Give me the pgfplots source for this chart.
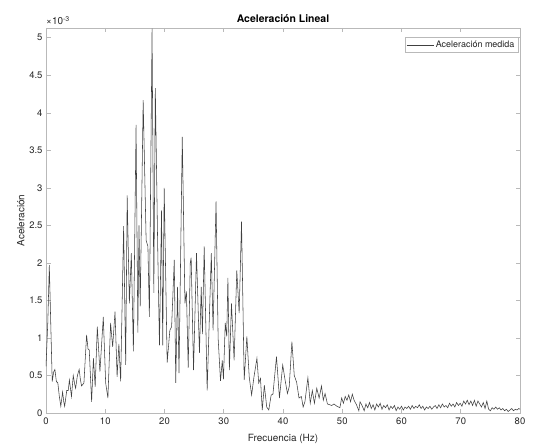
\documentclass[border=0pt]{standalone}
\usepackage{fontspec}
\setmainfont{TeX Gyre Heros}
\usepackage{pgfplots}
\pgfplotsset{compat=1.18}
\usetikzlibrary{calc}

\definecolor{axgray}{RGB}{185,185,185}
\definecolor{txt}{RGB}{38,38,38}

\begin{document}
\begin{tikzpicture}
\begin{axis}[
    name=ax,
    width=474bp, height=385bp, scale only axis,
    xmin=0, xmax=80, ymin=0, ymax=5.13,
    xtick={0,10,20,30,40,50,60,70,80},
    ytick={0,0.5,1,1.5,2,2.5,3,3.5,4,4.5,5},
    tick align=inside,
    major tick length=4.5bp,
    axis line style={axgray, line width=0.6bp},
    every tick/.style={axgray, line width=0.6bp},
    tick label style={font=\fontsize{9.5}{11}\selectfont, text=txt},
    xticklabel style={yshift=-1.5bp},
    /pgf/number format/assume math mode=true,
    scaled y ticks=false,
    title={\textbf{Aceleración Lineal}},
    title style={font=\fontsize{10.5}{12}\selectfont, text=black, yshift=-4bp},
    xlabel={Frecuencia (Hz)},
    ylabel={Aceleración},
    label style={font=\fontsize{10}{12}\selectfont, text=txt},
    xlabel style={yshift=-3bp},
    ylabel style={yshift=-2bp},
    legend style={at={(0.996,0.976)}, anchor=north east, draw=axgray,
        font=\fontsize{9}{10}\selectfont, text=txt, inner sep=1.5bp},
    legend cell align=left,
    legend image code/.code={\draw[#1] (0bp,0bp) -- (27bp,0bp);},
]
\addplot[black!75, line width=0.55bp] coordinates {
(0.0,0.62) (0.3,1.20) (0.56,1.97) (0.8,1.20) (1.05,0.42) (1.3,0.55) (1.5,0.58)
(1.75,0.42) (2.0,0.40) (2.25,0.22) (2.5,0.09) (2.8,0.28) (3.0,0.15) (3.15,0.09)
(3.5,0.30) (3.75,0.30) (3.95,0.44) (4.3,0.22) (4.6,0.50) (4.85,0.38) (5.0,0.33)
(5.3,0.50) (5.6,0.58) (5.8,0.45) (6.0,0.36) (6.4,0.40) (6.85,1.04) (7.1,0.85)
(7.3,0.84) (7.7,0.15) (8.0,0.73) (8.3,0.35) (8.66,1.15) (9.1,0.55) (9.67,1.28)
(10.07,0.40) (10.45,0.20) (10.9,1.20) (11.25,0.88) (11.65,1.35) (12.0,0.48)
(12.3,0.92) (12.6,0.42) (13.1,2.49) (13.45,0.64) (13.7,2.90) (14.07,1.46)
(14.4,2.13) (14.75,0.82) (15.2,3.84) (15.5,1.07) (15.7,2.50) (15.9,1.42)
(16.4,4.17) (16.9,2.30) (17.2,2.22) (17.45,1.28) (17.9,5.12) (18.2,1.60)
(18.45,4.33) (18.85,2.22) (19.15,0.90) (19.5,2.70) (19.7,0.90) (19.95,3.00)
(20.45,0.67) (20.9,1.10) (21.2,1.15) (21.65,2.04) (21.9,0.40) (22.2,1.68)
(22.45,0.53) (23.0,3.68) (23.45,1.46) (23.7,1.62) (24.0,0.60) (24.35,2.00)
(24.5,2.07) (24.9,0.57) (25.4,2.13) (25.9,0.80) (26.2,1.68) (26.4,1.05)
(26.7,2.22) (27.2,0.30) (27.9,2.13) (28.2,1.10) (28.7,2.82) (29.05,1.00)
(29.45,0.43) (29.75,0.70) (29.95,0.45) (30.25,1.20) (30.5,1.02) (30.7,1.80)
(30.95,0.57) (31.3,1.46) (31.75,0.70) (32.2,1.90) (32.6,1.33) (33.0,2.55)
(33.45,0.44) (33.9,1.02) (34.3,0.48) (34.7,0.24) (35.1,0.48) (35.6,0.73)
(35.9,0.40) (36.2,0.46) (36.5,0.04) (36.85,0.37) (37.25,0.08) (37.6,0.04)
(38.0,0.24) (38.3,0.25) (38.9,0.75) (39.4,0.20) (39.95,0.64) (40.35,0.44)
(40.75,0.26) (41.05,0.35) (41.5,0.95) (41.9,0.50) (42.3,0.41) (42.7,0.20)
(43.1,0.22) (43.4,0.08) (43.7,0.15) (44.2,0.47) (44.6,0.13) (44.95,0.30)
(45.3,0.13) (45.7,0.33) (46.1,0.20) (46.5,0.36) (46.8,0.17) (47.1,0.26)
(47.5,0.12) (47.9,0.11) (48.2,0.10) (48.6,0.12) (49.1,0.09) (49.6,0.07)
(49.9,0.20) (50.2,0.13) (50.5,0.22) (50.8,0.17) (51.1,0.24) (51.4,0.15)
(51.7,0.25) (52.0,0.17) (52.4,0.11) (52.8,0.03) (53.0,0.15) (53.4,0.09)
(53.7,0.03) (54.0,0.12) (54.3,0.07) (54.6,0.14) (54.9,0.06) (55.2,0.11)
(55.5,0.04) (55.8,0.12) (56.1,0.08) (56.4,0.13) (56.7,0.05) (57.0,0.10)
(57.3,0.07) (57.6,0.11) (57.9,0.04) (58.2,0.09) (58.5,0.06) (58.8,0.10)
(59.1,0.03) (59.4,0.08) (59.7,0.05) (60.0,0.09) (60.3,0.04) (60.6,0.08)
(60.9,0.06) (61.2,0.09) (61.5,0.05) (61.8,0.10) (62.1,0.06) (62.4,0.09)
(62.7,0.07) (63.0,0.11) (63.3,0.06) (63.6,0.09) (63.9,0.04) (64.2,0.08)
(64.5,0.06) (64.8,0.09) (65.1,0.05) (65.4,0.08) (65.7,0.10) (66.0,0.06)
(66.3,0.11) (66.6,0.07) (66.9,0.12) (67.2,0.08) (67.5,0.10) (67.8,0.07)
(68.1,0.13) (68.4,0.09) (68.7,0.12) (69.0,0.08) (69.3,0.14) (69.6,0.10)
(69.9,0.13) (70.2,0.09) (70.5,0.16) (70.8,0.12) (71.1,0.17) (71.4,0.11)
(71.7,0.16) (72.0,0.10) (72.3,0.17) (72.6,0.09) (72.9,0.16) (73.2,0.12)
(73.5,0.08) (73.8,0.14) (74.1,0.06) (74.4,0.16) (74.7,0.05) (75.0,0.03)
(75.3,0.07) (75.6,0.05) (75.9,0.08) (76.2,0.05) (76.5,0.07) (76.8,0.04)
(77.1,0.06) (77.4,0.03) (77.7,0.05) (78.0,0.02) (78.3,0.04) (78.6,0.06)
(78.9,0.03) (79.2,0.05) (79.5,0.04) (79.8,0.06) (80.0,0.05)
};
\addlegendentry{Aceleración medida}
\end{axis}
\node[anchor=south west, inner sep=0pt, font=\fontsize{10}{11}\selectfont, text=txt]
    at ($(ax.north west)+(0bp,3bp)$) {×10\textsuperscript{-3}};
\pgfresetboundingbox
\path[use as bounding box] ($(ax.south west)+(-46bp,-31bp)$) rectangle ($(ax.north east)+(14bp,28bp)$);
\end{tikzpicture}
\end{document}
